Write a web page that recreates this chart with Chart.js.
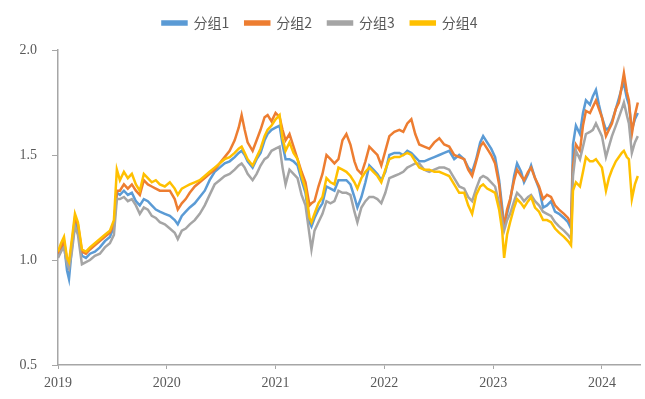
<!DOCTYPE html>
<html>
<head>
<meta charset="utf-8">
<script src="https://cdn.jsdelivr.net/npm/chart.js@4.4.1/dist/chart.umd.min.js"></script>
<style>
  html, body { margin: 0; padding: 0; background: #fff; }
  #wrap { width: 645px; height: 399px; }
</style>
</head>
<body>
<div id="wrap"><canvas id="chart"></canvas></div>
<script>
// Time axis in fractional years
const dates = [
  2019.000, 2019.028, 2019.055, 2019.083, 2019.101, 2019.128, 2019.156, 2019.183, 2019.220, 2019.257,
  2019.294, 2019.339, 2019.385, 2019.431, 2019.477, 2019.514, 2019.541, 2019.569, 2019.606, 2019.642,
  2019.679, 2019.716, 2019.752, 2019.789, 2019.826, 2019.862, 2019.899, 2019.936, 2019.982, 2020.028,
  2020.073, 2020.101, 2020.138, 2020.174, 2020.211, 2020.257, 2020.303, 2020.349, 2020.394, 2020.440,
  2020.486, 2020.532, 2020.578, 2020.624, 2020.661, 2020.688, 2020.716, 2020.743, 2020.789, 2020.826,
  2020.862, 2020.899, 2020.927, 2020.963, 2021.000, 2021.037, 2021.064, 2021.092, 2021.128, 2021.165,
  2021.202, 2021.239, 2021.275, 2021.312, 2021.330, 2021.358, 2021.394, 2021.431, 2021.468, 2021.505,
  2021.541, 2021.578, 2021.615, 2021.651, 2021.688, 2021.725, 2021.752, 2021.789, 2021.826, 2021.862,
  2021.899, 2021.936, 2021.972, 2022.009, 2022.046, 2022.092, 2022.138, 2022.174, 2022.211, 2022.248,
  2022.284, 2022.321, 2022.367, 2022.413, 2022.459, 2022.505, 2022.550, 2022.596, 2022.642, 2022.688,
  2022.734, 2022.771, 2022.807, 2022.844, 2022.881, 2022.908, 2022.945, 2022.982, 2023.018, 2023.055,
  2023.083, 2023.101, 2023.128, 2023.156, 2023.193, 2023.220, 2023.257, 2023.284, 2023.321, 2023.349,
  2023.385, 2023.422, 2023.459, 2023.495, 2023.532, 2023.569, 2023.606, 2023.651, 2023.688, 2023.716,
  2023.734, 2023.761, 2023.798, 2023.826, 2023.853, 2023.890, 2023.917, 2023.945, 2023.972, 2024.000,
  2024.037, 2024.064, 2024.092, 2024.128, 2024.156, 2024.183, 2024.202, 2024.229, 2024.248, 2024.275,
  2024.303, 2024.330
];

const group1 = [
  1.02, 1.05, 1.08, 0.95, 0.91, 1.06, 1.18, 1.15, 1.02, 1.01,
  1.03, 1.04, 1.06, 1.09, 1.11, 1.16, 1.32, 1.31, 1.33, 1.31,
  1.32, 1.28, 1.26, 1.29, 1.28, 1.26, 1.24, 1.23, 1.22, 1.21,
  1.19, 1.17, 1.21, 1.23, 1.25, 1.27, 1.30, 1.33, 1.38, 1.42,
  1.44, 1.46, 1.47, 1.49, 1.51, 1.52, 1.50, 1.47, 1.44, 1.48,
  1.51, 1.57, 1.60, 1.62, 1.63, 1.64, 1.55, 1.48, 1.48, 1.47,
  1.45, 1.38, 1.32, 1.18, 1.16, 1.20, 1.24, 1.27, 1.35, 1.34,
  1.33, 1.38, 1.38, 1.38, 1.36, 1.30, 1.25, 1.30, 1.37, 1.45,
  1.43, 1.41, 1.38, 1.42, 1.50, 1.51, 1.51, 1.50, 1.52, 1.51,
  1.49, 1.47, 1.47, 1.48, 1.49, 1.50, 1.51, 1.52, 1.48, 1.50,
  1.48, 1.44, 1.42, 1.48, 1.56, 1.59, 1.56, 1.53, 1.49, 1.38,
  1.25, 1.17, 1.22, 1.28, 1.40, 1.46, 1.42, 1.37, 1.41, 1.45,
  1.39, 1.34, 1.25, 1.26, 1.28, 1.23, 1.22, 1.20, 1.18, 1.15,
  1.55, 1.64, 1.60, 1.70, 1.76, 1.74, 1.78, 1.81, 1.74, 1.68,
  1.62, 1.63, 1.66, 1.72, 1.77, 1.82, 1.84, 1.77, 1.74, 1.62,
  1.67, 1.70
];

const group2 = [
  1.03, 1.06, 1.09, 1.00, 0.97, 1.08, 1.20, 1.17, 1.04, 1.03,
  1.05, 1.07, 1.09, 1.11, 1.13, 1.17, 1.33, 1.33, 1.36, 1.34,
  1.36, 1.33, 1.31, 1.38, 1.36, 1.35, 1.34, 1.33, 1.33, 1.33,
  1.29, 1.24, 1.27, 1.29, 1.32, 1.35, 1.37, 1.39, 1.41, 1.43,
  1.46, 1.49, 1.52, 1.57, 1.63, 1.69, 1.62, 1.56, 1.52, 1.57,
  1.62, 1.68, 1.69, 1.66, 1.70, 1.68, 1.62, 1.57, 1.60, 1.54,
  1.48, 1.42, 1.37, 1.26, 1.27, 1.28, 1.35, 1.41, 1.50, 1.48,
  1.46, 1.48, 1.57, 1.60, 1.55, 1.47, 1.43, 1.41, 1.47, 1.54,
  1.52, 1.50, 1.45, 1.52, 1.59, 1.61, 1.62, 1.61, 1.65, 1.67,
  1.60, 1.55, 1.54, 1.53, 1.56, 1.58, 1.55, 1.54, 1.50, 1.49,
  1.48, 1.43, 1.40, 1.47, 1.54, 1.56, 1.53, 1.50, 1.46, 1.36,
  1.22, 1.16, 1.24, 1.29, 1.38, 1.43, 1.40, 1.38, 1.42, 1.44,
  1.39, 1.35, 1.29, 1.31, 1.30, 1.26, 1.24, 1.22, 1.20, 1.17,
  1.45, 1.55, 1.52, 1.64, 1.71, 1.70, 1.73, 1.76, 1.72, 1.68,
  1.59, 1.62, 1.65, 1.72, 1.75, 1.83, 1.89, 1.80, 1.76, 1.60,
  1.69, 1.75
];

const group3 = [
  1.01, 1.04, 1.06, 0.98, 0.96, 1.04, 1.16, 1.12, 0.98, 0.99,
  1.00, 1.02, 1.03, 1.06, 1.08, 1.12, 1.29, 1.29, 1.30, 1.28,
  1.29, 1.26, 1.22, 1.25, 1.24, 1.21, 1.20, 1.18, 1.17, 1.15,
  1.13, 1.10, 1.14, 1.15, 1.17, 1.19, 1.22, 1.26, 1.31, 1.36,
  1.38, 1.40, 1.41, 1.43, 1.45, 1.46, 1.44, 1.41, 1.38, 1.41,
  1.45, 1.48, 1.49, 1.52, 1.53, 1.54, 1.44, 1.36, 1.43, 1.41,
  1.39, 1.31, 1.26, 1.12, 1.05, 1.14, 1.18, 1.22, 1.28, 1.27,
  1.28, 1.33, 1.32, 1.32, 1.31, 1.23, 1.18, 1.25, 1.28, 1.30,
  1.30, 1.29, 1.27, 1.32, 1.39, 1.40, 1.41, 1.42, 1.44, 1.45,
  1.46, 1.46, 1.43, 1.42, 1.43, 1.44, 1.44, 1.43, 1.39, 1.35,
  1.34, 1.30, 1.28, 1.34, 1.39, 1.40, 1.39, 1.37, 1.35, 1.27,
  1.19, 1.14, 1.19, 1.22, 1.28, 1.32, 1.30, 1.28, 1.30, 1.31,
  1.28, 1.26, 1.23, 1.22, 1.21, 1.18, 1.16, 1.14, 1.12, 1.10,
  1.40, 1.52, 1.48, 1.54, 1.60, 1.61, 1.62, 1.65, 1.62, 1.59,
  1.49, 1.54, 1.59, 1.64, 1.68, 1.72, 1.75, 1.69, 1.65, 1.51,
  1.56, 1.59
];

const group4 = [
  1.04, 1.08, 1.11, 1.01, 0.99, 1.10, 1.22, 1.18, 1.05, 1.04,
  1.06, 1.08, 1.10, 1.12, 1.14, 1.19, 1.43, 1.38, 1.42, 1.39,
  1.41, 1.36, 1.33, 1.41, 1.39, 1.37, 1.38, 1.36, 1.35, 1.37,
  1.34, 1.31, 1.34, 1.35, 1.36, 1.37, 1.38, 1.40, 1.42, 1.44,
  1.46, 1.48, 1.49, 1.51, 1.53, 1.54, 1.51, 1.48, 1.45, 1.49,
  1.53, 1.59, 1.62, 1.64, 1.67, 1.69, 1.58, 1.52, 1.56, 1.51,
  1.48, 1.40, 1.34, 1.20, 1.18, 1.22, 1.27, 1.30, 1.39, 1.37,
  1.36, 1.44, 1.43, 1.42, 1.40, 1.37, 1.34, 1.39, 1.42, 1.44,
  1.42, 1.40, 1.37, 1.43, 1.48, 1.49, 1.49, 1.50, 1.51, 1.50,
  1.47, 1.44, 1.43, 1.43, 1.42, 1.42, 1.41, 1.40, 1.36, 1.32,
  1.32, 1.26, 1.22, 1.31, 1.35, 1.36, 1.34, 1.33, 1.32, 1.24,
  1.14, 1.01, 1.12, 1.18, 1.25, 1.29, 1.27, 1.25, 1.28, 1.30,
  1.25, 1.23, 1.19, 1.19, 1.18, 1.15, 1.13, 1.11, 1.09, 1.07,
  1.33, 1.37, 1.35, 1.42, 1.49, 1.47, 1.47, 1.48, 1.46, 1.44,
  1.33, 1.39, 1.43, 1.47, 1.49, 1.51, 1.52, 1.49, 1.48, 1.29,
  1.36, 1.40
];

const seriesNames = ['分组1', '分组2', '分组3', '分组4'];
const tickYears = [2019, 2020, 2021, 2022, 2023, 2024];
const tickValues = [0.5, 1.0, 1.5, 2.0];

const colors = {
    blue: '#5B9BD5',
    orange: '#ED7D31',
    gray: '#A5A5A5',
    yellow: '#FFC000',
    axis: '#A6A6A6',
    text: '#595959'
};

function toPoints(values) {
    return values.map((v, i) => ({ x: dates[i], y: v }));
}

function makeDataset(label, values, color, order) {
    return {
        label: label,
        data: toPoints(values),
        borderColor: color,
        backgroundColor: color,
        borderWidth: 2.5,
        pointRadius: 0,
        tension: 0,
        order: order
    };
}

// push the plot area down below the legend
const legendGap = {
    id: 'legendGap',
    beforeInit(chart) {
        const fit = chart.legend.fit;
        chart.legend.fit = function () {
            fit.bind(chart.legend)();
            this.height = 50;
        };
    }
};

const ctx = document.getElementById('chart').getContext('2d');
new Chart(ctx, {
    type: 'line',
    data: {
        datasets: [
            makeDataset(seriesNames[0], group1, colors.blue, 4),
            makeDataset(seriesNames[1], group2, colors.orange, 3),
            makeDataset(seriesNames[2], group3, colors.gray, 2),
            makeDataset(seriesNames[3], group4, colors.yellow, 1)
        ]
    },
    options: {
        responsive: true,
        maintainAspectRatio: false,
        animation: false,
        layout: { padding: { left: 0, right: 5, top: 0, bottom: 0 } },
        scales: {
            x: {
                type: 'linear',
                min: 2019,
                max: 2024.35,
                afterBuildTicks: s => { s.ticks = tickYears.map(v => ({ value: v })); },
                afterFit: s => { s.height = 34; },
                border: { display: true, color: colors.axis, width: 1.5 },
                grid: { drawOnChartArea: false, tickLength: 4, color: colors.axis },
                ticks: {
                    padding: 6,
                    maxRotation: 0,
                    color: colors.text,
                    font: { family: "'Liberation Serif', serif", size: 14 },
                    callback: v => String(v)
                }
            },
            y: {
                min: 0.5,
                max: 2.0,
                afterBuildTicks: s => { s.ticks = tickValues.map(v => ({ value: v })); },
                afterFit: s => { s.width = 58; },
                border: { display: true, color: colors.axis, width: 1.5 },
                grid: { drawOnChartArea: false, tickLength: 6, color: colors.axis },
                ticks: {
                    padding: 15,
                    color: colors.text,
                    font: { family: "'Liberation Serif', serif", size: 14 },
                    callback: v => v.toFixed(1)
                }
            }
        },
        plugins: {
            legend: {
                position: 'top',
                align: 'center',
                labels: {
                    boxWidth: 24,
                    boxHeight: 3,
                    padding: 16,
                    color: colors.text,
                    font: { family: "'Noto Sans CJK SC', sans-serif", size: 14 },
                    sort: (a, b) => a.datasetIndex - b.datasetIndex
                }
            },
            tooltip: { enabled: false }
        }
    },
    plugins: [legendGap]
});
</script>
</body>
</html>
